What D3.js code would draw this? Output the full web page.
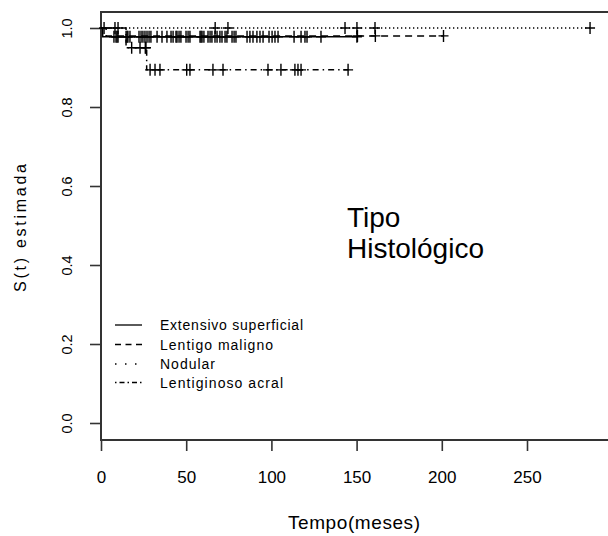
<!DOCTYPE html>
<html>
<head>
<meta charset="utf-8">
<script src="https://cdn.jsdelivr.net/npm/d3@7"></script>
<style>
  body { margin: 0; background: #fff; }
  svg { display: block; }
  text { font-family: "Liberation Sans", Arial, sans-serif; fill: #000; }
</style>
</head>
<body>
<svg id="chart" width="608" height="536"></svg>
<script>
// Kaplan-Meier estimates by histological type (time in months)
const groupNames = ["Extensivo superficial", "Lentigo maligno", "Nodular", "Lentiginoso acral"];

// Extensivo superficial
const esTimes = [0, 1, 150.2];
const esSurv = [1, 0.978, 0.978];
const esCensor = [7.6, 8.8, 9.4, 10.0, 14.7, 15.3, 15.8, 17.0, 22.3, 23.5, 24.6, 25.8, 27.0, 28.2, 29.3,
  32.9, 35.8, 38.7, 41.1, 42.3, 44.0, 44.6, 45.8, 46.9, 49.9, 51.1, 52.2, 58.1, 58.7, 59.3, 60.4,
  62.8, 64.0, 65.1, 66.9, 68.1, 69.8, 71.0, 72.8, 73.9, 76.9, 78.1, 79.2, 85.7, 87.4, 89.2, 91.5,
  93.3, 95.1, 98.6, 100.4, 102.1, 103.9, 113.3, 117.4, 119.7, 120.9, 129.1, 150.2];

// Lentigo maligno
const lmTimes = [0, 3, 201];
const lmSurv = [1, 0.98, 0.98];
const lmCensor = [150.5, 161, 201];

// Nodular
const ndTimes = [0, 287];
const ndSurv = [1, 1];
const ndCensor = [1.8, 8.2, 10.0, 67, 74.5, 143.2, 150.2, 160.8, 287];

// Lentiginoso acral
const laTimes = [0, 14.7, 26.8, 145];
const laSurv = [1, 0.95, 0.894, 0.894];
const laCensor = [18, 22.9, 26.0, 26.4, 28.8, 31.7, 34.6, 50.3, 52.2, 65.7, 71.6, 98, 105.6,
  113.8, 115.6, 117.4, 145];

const xTicks = [0, 50, 100, 150, 200, 250];
const yTicks = [0, 0.2, 0.4, 0.6, 0.8, 1.0];

const groups = [
  { name: groupNames[0], times: esTimes, surv: esSurv, censor: esCensor, dash: null },
  { name: groupNames[1], times: lmTimes, surv: lmSurv, censor: lmCensor, dash: "7,5" },
  { name: groupNames[2], times: ndTimes, surv: ndSurv, censor: ndCensor, dash: "1.3,2.7" },
  { name: groupNames[3], times: laTimes, surv: laSurv, censor: laCensor, dash: "1.5,4,6,4" }
];

const svg = d3.select("#chart");
svg.append("rect").attr("width", 608).attr("height", 536).attr("fill", "#fff");

const x = d3.scaleLinear().domain([0, 250]).range([101, 527]);
const y = d3.scaleLinear().domain([0, 1]).range([423, 28]);

const frameTop = 12, frameBottom = 440, frameLeft = 101, frameRight = 612;
const axisColor = "#333";

// x axis
svg.append("g")
  .attr("transform", `translate(0,${frameBottom})`)
  .call(d3.axisBottom(x).tickValues(xTicks).tickSize(11).tickPadding(20)
    .tickFormat(d3.format("d")))
  .call(g => g.select(".domain").remove())
  .call(g => g.selectAll("line").attr("stroke", axisColor).attr("stroke-width", 1.6))
  .call(g => g.selectAll("text").attr("font-size", 17).attr("fill", "#000")
    .attr("font-family", "'Liberation Sans', Arial, sans-serif"));

// y axis with rotated labels
svg.append("g")
  .attr("transform", `translate(${frameLeft},0)`)
  .call(d3.axisLeft(y).tickValues(yTicks).tickSize(11).tickFormat(d3.format(".1f")))
  .call(g => g.select(".domain").remove())
  .call(g => g.selectAll("line").attr("stroke", axisColor).attr("stroke-width", 1.6))
  .call(g => g.selectAll("text")
    .attr("transform", "rotate(-90)")
    .attr("text-anchor", "middle")
    .attr("x", 0).attr("y", -29).attr("dy", null)
    .attr("font-size", 14.5).attr("fill", "#000")
    .attr("font-family", "'Liberation Sans', Arial, sans-serif"));

// plot frame (open on the right, running past the page edge)
svg.append("path")
  .attr("d", `M${frameRight},${frameTop}H${frameLeft}V${frameBottom}H${frameRight}`)
  .attr("fill", "none").attr("stroke", axisColor).attr("stroke-width", 2);

// survival curves
const line = d3.line().x(d => x(d[0])).y(d => y(d[1])).curve(d3.curveStepAfter);
const survAt = (g, t) => {
  let s = g.surv[0];
  g.times.forEach((tt, i) => { if (tt <= t) s = g.surv[i]; });
  return s;
};

groups.forEach(g => {
  const pts = g.times.map((t, i) => [t, g.surv[i]]);
  svg.append("path")
    .attr("d", line(pts))
    .attr("fill", "none").attr("stroke", "#000").attr("stroke-width", 1.5)
    .attr("stroke-dasharray", g.dash);
  svg.append("g").selectAll("path")
    .data(g.censor)
    .join("path")
    .attr("d", t => {
      const cx = x(t), cy = y(survAt(g, t));
      return `M${cx - 5},${cy}H${cx + 5}M${cx},${cy - 6}V${cy + 6}`;
    })
    .attr("stroke", "#000").attr("stroke-width", 1.4).attr("fill", "none");
});

// legend
const legendRows = [325, 344.5, 364, 382.5];
const legendWidths = [143, 113, 55, 123];
const legendDash = [null, "6,4.5", "1.5,8.5", "1.5,3,5,3"];
const legend = svg.append("g");
groups.forEach((g, i) => {
  legend.append("line")
    .attr("x1", 115).attr("x2", 142)
    .attr("y1", legendRows[i]).attr("y2", legendRows[i])
    .attr("stroke", "#000").attr("stroke-width", 1.3)
    .attr("stroke-dasharray", legendDash[i]);
  legend.append("text")
    .attr("x", 160).attr("y", legendRows[i] + 5.3)
    .attr("font-size", 14)
    .attr("textLength", legendWidths[i]).attr("lengthAdjust", "spacing")
    .text(g.name);
});

// annotation
svg.append("text").attr("x", 347).attr("y", 227).attr("font-size", 28).text("Tipo");
svg.append("text").attr("x", 347).attr("y", 258).attr("font-size", 28).text("Histológico");

// axis titles
svg.append("text")
  .attr("x", 354).attr("y", 529)
  .attr("text-anchor", "middle").attr("font-size", 19)
  .attr("textLength", 132).attr("lengthAdjust", "spacing")
  .text("Tempo(meses)");
svg.append("text")
  .attr("transform", "translate(26,228) rotate(-90)")
  .attr("text-anchor", "middle").attr("font-size", 16)
  .attr("textLength", 128).attr("lengthAdjust", "spacing")
  .text("S(t) estimada");
</script>
</body>
</html>
